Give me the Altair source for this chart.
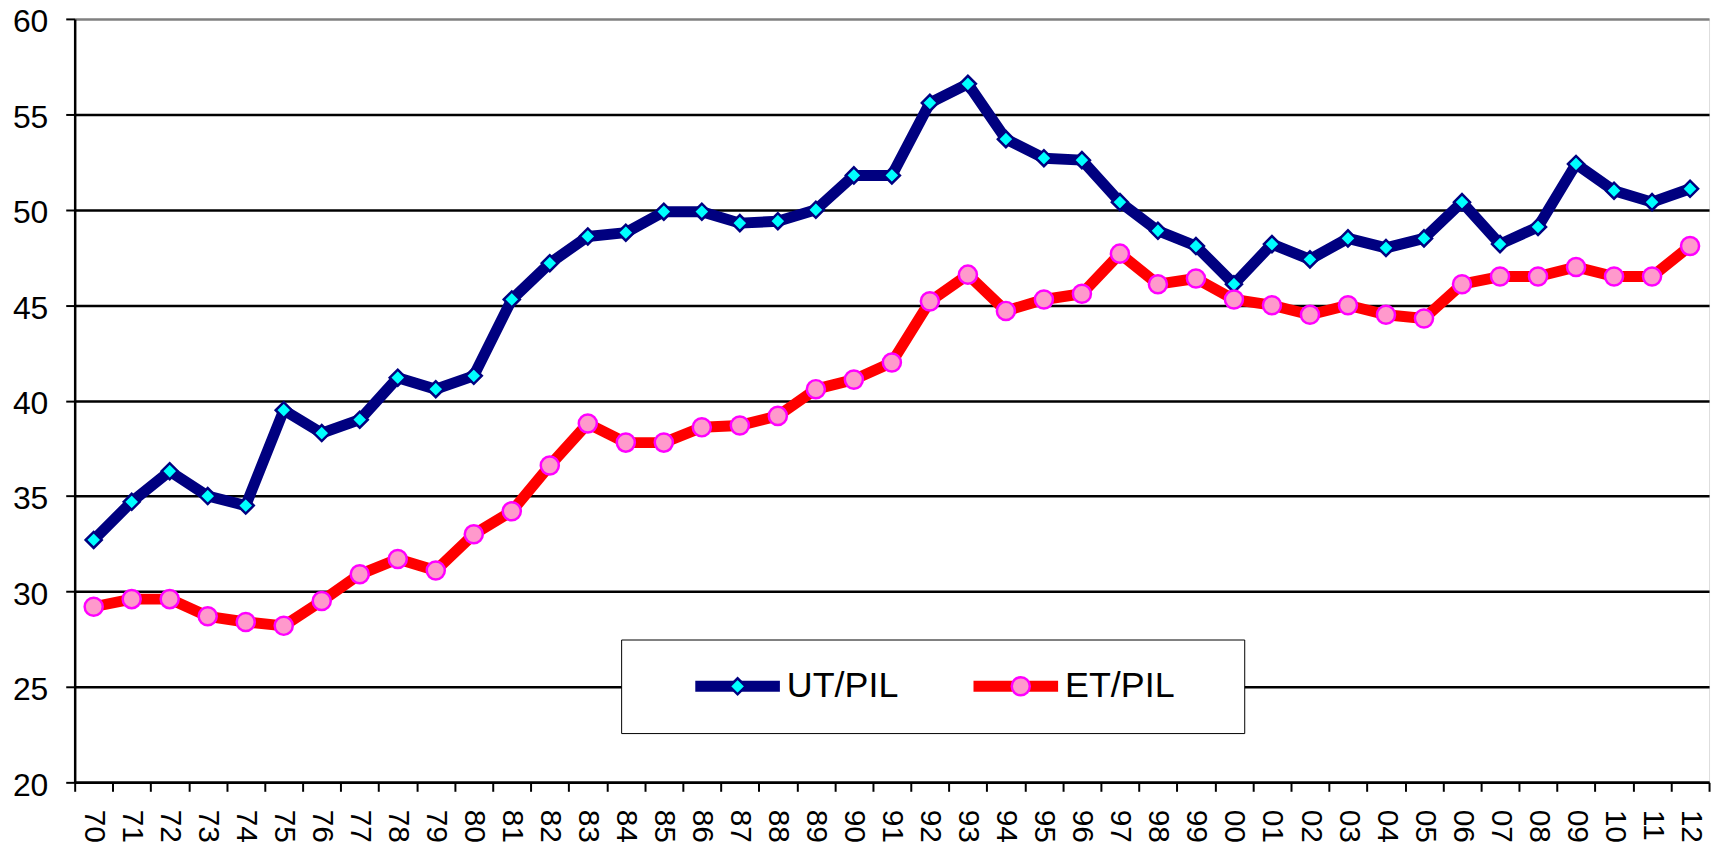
import altair as alt
import pandas as pd

years = ["70", "71", "72", "73", "74", "75", "76", "77", "78", "79",
         "80", "81", "82", "83", "84", "85", "86", "87", "88", "89",
         "90", "91", "92", "93", "94", "95", "96", "97", "98", "99",
         "00", "01", "02", "03", "04", "05", "06", "07", "08", "09",
         "10", "11", "12"]
ut_pil = [32.7, 34.7, 36.3, 35.0, 34.5, 39.5, 38.3, 39.0, 41.2, 40.6,
          41.3, 45.3, 47.2, 48.6, 48.8, 49.9, 49.9, 49.3, 49.4, 50.0,
          51.8, 51.8, 55.6, 56.6, 53.7, 52.7, 52.6, 50.4, 48.9, 48.1,
          46.1, 48.2, 47.4, 48.5, 48.0, 48.5, 50.4, 48.2, 49.1, 52.4,
          51.0, 50.4, 51.1]
et_pil = [29.2, 29.6, 29.6, 28.7, 28.4, 28.2, 29.5, 30.9, 31.7, 31.1,
          33.0, 34.2, 36.6, 38.8, 37.8, 37.8, 38.6, 38.7, 39.2, 40.6,
          41.1, 42.0, 45.2, 46.6, 44.7, 45.3, 45.6, 47.7, 46.1, 46.4,
          45.3, 45.0, 44.5, 45.0, 44.5, 44.3, 46.1, 46.5, 46.5, 47.0,
          46.5, 46.5, 48.1]
series_names = ["UT/PIL", "ET/PIL"]
line_colors = ["#000080", "#FF0000"]
marker_fills = ["#00FFFF", "#FF99CC"]
marker_strokes = ["#000080", "#FF00FF"]
marker_shapes = ["diamond", "circle"]
marker_sizes = [260, 330]
y_ticks = [20, 25, 30, 35, 40, 45, 50, 55, 60]

rows = []
for name, vals in zip(series_names, [ut_pil, et_pil]):
    for yr, v in zip(years, vals):
        rows.append({"year": yr, "series": name, "marker": name, "value": v})
df = pd.DataFrame(rows)

FONT = "Liberation Sans"
# blank glyphs (not trimmed) widen the legend box on its right side
pad_label = "ET/PIL" + "\u2002\u2800"
label_expr = f"datum.label == 'ET/PIL' ? '{pad_label}' : datum.label"

common = dict(
    orient="none", direction="horizontal", title=" ", titleOrient="left",
    titleFontSize=1, titlePadding=44, labelFont=FONT, labelFontSize=36,
    labelColor="black", labelLimit=400, padding=25, clipHeight=44,
    legendX=549, legendY=623.5,
)

line_legend = alt.Legend(
    symbolType="stroke", symbolSize=7225, symbolStrokeWidth=11, labelOffset=1.5,
    strokeColor="black", fillColor="white", labelExpr=label_expr,
    columnPadding=69.5, **common,
)
point_legend = alt.Legend(
    symbolOffset=30, labelOffset=63.5, labelExpr="''", symbolStrokeWidth=2.5,
    columnPadding=154.5, **common,
)

x_enc = alt.X(
    "year:N", sort=years, title=None,
    scale=alt.Scale(type="band", paddingInner=0, paddingOuter=0),
    axis=alt.Axis(
        tickBand="extent", labelAngle=90, labelFont=FONT, labelFontSize=30,
        labelColor="black", labelPadding=18, tickSize=9, tickWidth=2,
        tickColor="black", domainColor="black", domainWidth=2.5, grid=False,
        labelOverlap=False,
    ),
)
y_enc = alt.Y(
    "value:Q", title=None,
    scale=alt.Scale(domain=[20, 60], nice=False, zero=False),
    axis=alt.Axis(
        values=y_ticks, labelFont=FONT, labelFontSize=32, labelColor="black",
        labelPadding=18, labelOffset=3, tickSize=9, tickWidth=2, tickColor="black",
        domainColor="black", domainWidth=2.5,
        gridColor={"condition": {"test": "datum.value == 60", "value": "#808080"}, "value": "black"},
        gridWidth=2.5, gridOpacity=1,
    ),
)

lines = alt.Chart(df).mark_line(strokeWidth=11, strokeJoin="round").encode(
    x=x_enc, y=y_enc,
    color=alt.Color("series:N", scale=alt.Scale(domain=series_names, range=line_colors), legend=line_legend),
)

points = alt.Chart(df).mark_point(filled=True, strokeWidth=2.5, opacity=1).encode(
    x=x_enc, y=y_enc,
    fill=alt.Fill("marker:N", sort="descending", scale=alt.Scale(range=marker_fills), legend=point_legend),
    stroke=alt.Stroke("marker:N", sort="descending", scale=alt.Scale(range=marker_strokes), legend=point_legend),
    shape=alt.Shape("marker:N", sort="descending", scale=alt.Scale(range=marker_shapes), legend=point_legend),
    size=alt.Size("marker:N", sort="descending", scale=alt.Scale(type="ordinal", range=marker_sizes), legend=point_legend),
)

chart = alt.layer(lines, points).properties(
    width=1642, height=767,
    autosize=alt.AutoSizeParams(type="none"),
    padding={"left": 67, "top": 9, "right": 12, "bottom": 60},
).configure_view(stroke="#808080", strokeWidth=2.5).configure(background="white")

chart.save("out.html", embed_options={"renderer": "svg", "actions": False})
